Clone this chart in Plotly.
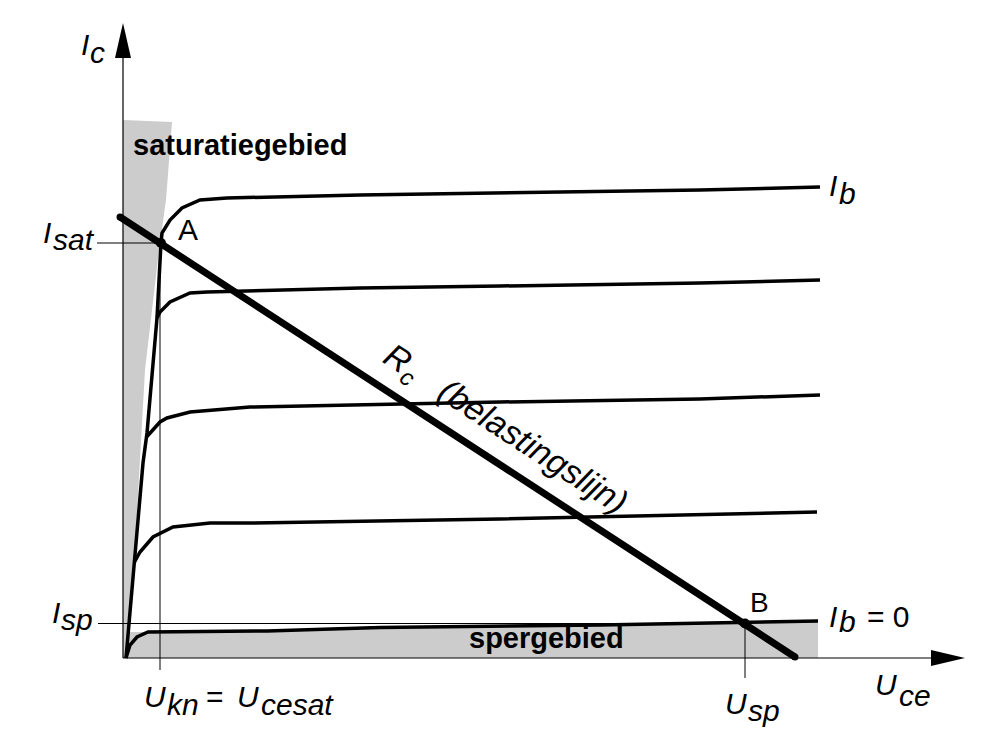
import plotly.graph_objects as go

# ---- data (arbitrary units: Uce horizontal, Ic vertical) ----
sat_region_x = [0, 4.9, 4.3, 3.6, 2.2, 1.1, 0.4, 0]
sat_region_y = [53.8, 53.6, 45.8, 40.8, 28.8, 9.1, 0, 0]

sper_region_x = [0, 0, 2.5, 14.4, 25.7, 47.7, 57.7, 69.5, 69.5]
sper_region_y = [0, 2.6, 2.6, 2.7, 3.05, 3.3, 3.5, 3.7, 0]

steep_x = [0.3, 0.7, 1.1, 1.5, 2.0, 2.4, 2.9, 3.4, 3.8]
steep_y = [0, 4.8, 9.1, 13.8, 19.5, 22.5, 28.3, 34.0, 41.5]

curve1_x = [3.8, 3.9, 4.7, 5.9, 7.7, 10.4, 23.7, 37.7, 57.7, 69.7]
curve1_y = [41.5, 42.5, 43.8, 45.0, 45.8, 46.0, 46.3, 46.5, 46.8, 47.1]
curve2_x = [3.4, 3.7, 4.7, 6.7, 8.4, 23.7, 37.7, 57.7, 69.7]
curve2_y = [34.0, 34.6, 35.6, 36.5, 36.6, 37.0, 37.2, 37.5, 37.8]
curve3_x = [2.35, 3.7, 4.4, 6.7, 12.7, 37.7, 57.7, 69.7]
curve3_y = [22.1, 23.6, 24.0, 24.6, 25.1, 25.6, 25.9, 26.3]
curve4_x = [1.15, 1.7, 3.0, 5.0, 8.7, 12.7, 37.7, 57.7, 69.4]
curve4_y = [9.6, 10.6, 12.1, 13.1, 13.5, 13.5, 13.9, 14.3, 14.6]
curve0_x = [0.3, 0.7, 1.4, 2.5, 14.4, 25.7, 47.7, 57.7, 69.5]
curve0_y = [0, 1.3, 2.1, 2.6, 2.7, 3.05, 3.3, 3.5, 3.7]

load_x = [-0.3, 67.2]
load_y = [44.1, 0.1]

point_A = (3.8, 41.5)
point_B = (62.2, 3.45)

isat_x = [-2.6, 3.8]
ukn_y = [41.5, -1.2]
isp_x = [-2.5, 62.2]
usp_y = [3.45, -2.0]

yaxis_top = 60.0
yarrow_tip = 63.5
xaxis_end = 80.8
xarrow_tip = 84.2
arrow_half = 0.8

GRAY = "#cccccc"
FONT = "Liberation Sans, Arial, sans-serif"

fig = go.Figure()

def poly(x, y, color):
    fig.add_trace(go.Scatter(x=x, y=y, mode="lines", fill="toself", fillcolor=color,
                             line=dict(width=0, color=color), hoverinfo="skip", showlegend=False))

def line(x, y, w, color="black"):
    fig.add_trace(go.Scatter(x=x, y=y, mode="lines", line=dict(width=w, color=color),
                             hoverinfo="skip", showlegend=False))

poly(sat_region_x, sat_region_y, GRAY)
poly(sper_region_x, sper_region_y, GRAY)

# thin helper lines
line(isat_x, [point_A[1], point_A[1]], 1)
line([3.7, 3.7], ukn_y, 1)
line(isp_x, [point_B[1], point_B[1]], 1)
line([point_B[0], point_B[0]], usp_y, 1)

# axes with arrows
line([0, 0], [0, yaxis_top], 1.2)
line([0, xaxis_end], [0, 0], 1.2)
poly([0, -arrow_half, arrow_half, 0], [yarrow_tip, yaxis_top, yaxis_top, yarrow_tip], "black")
poly([xarrow_tip, xaxis_end, xaxis_end, xarrow_tip], [0, arrow_half, -arrow_half, 0], "black")

# characteristic curves
for cx, cy in [(steep_x, steep_y), (curve1_x, curve1_y), (curve2_x, curve2_y),
               (curve3_x, curve3_y), (curve4_x, curve4_y), (curve0_x, curve0_y)]:
    line(cx, cy, 3.5)

# load line (round ends)
fig.add_trace(go.Scatter(x=load_x, y=load_y, mode="lines+markers",
                         line=dict(width=7, color="black"),
                         marker=dict(size=7, color="black"),
                         hoverinfo="skip", showlegend=False))

fig.add_trace(go.Scatter(x=[point_A[0], point_B[0]], y=[point_A[1], point_B[1]], mode="markers",
                         marker=dict(size=10, color="black"), hoverinfo="skip", showlegend=False))

def txt(s, x, y, size=30, italic=True, bold=False, angle=0, xanchor="left", yanchor="middle"):
    fig.add_annotation(x=x, y=y, xref="x", yref="y", text=s, showarrow=False,
                       xanchor=xanchor, yanchor=yanchor, textangle=angle,
                       font=dict(family=FONT, size=size, color="black",
                                 style="italic" if italic else "normal",
                                 weight="bold" if bold else "normal"))

# labels
txt("I", -4.4, 61.35); txt("c", -3.5, 60.55)
txt("saturatiegebied", 0.8, 51.3, size=29, italic=False, bold=True)
txt("A", 5.3, 42.9, size=30, italic=False)
txt("I", 70.4, 47.25); txt("b", 71.4, 46.45)
txt("I", -8.2, 42.55); txt("sat", -7.2, 41.85)
txt("I", -7.3, 4.55); txt("sp", -6.4, 3.85)
txt("U", 1.9, -3.85); txt("kn", 4.2, -4.65)
txt("=", 8.1, -3.85, italic=False)
txt("U", 11.2, -3.85); txt("cesat", 13.6, -4.65)
txt("U", 60.0, -4.55); txt("sp", 62.3, -5.25)
txt("U", 75.0, -2.65); txt("ce", 77.4, -3.75)
txt("I", 70.4, 4.15); txt("b", 71.4, 3.65)
txt("= 0", 74.2, 4.15, italic=False)
txt("B", 62.5, 5.6, size=28, italic=False)
txt("spergebied", 34.4, 2.05, size=29, italic=False, bold=True)
txt("R<sub>c</sub>\u00a0\u00a0\u00a0(belastingslijn)", 38.2, 22.8, size=34, italic=True,
    angle=33, xanchor="center", yanchor="middle")

fig.update_layout(
    width=992, height=731, margin=dict(l=0, r=0, t=0, b=0),
    paper_bgcolor="white", plot_bgcolor="white",
    xaxis=dict(range=[-12.3, 86.9], visible=False, fixedrange=True),
    yaxis=dict(range=[-7.3, 65.8], visible=False, fixedrange=True),
    showlegend=False,
)

fig.write_html("out.html")
